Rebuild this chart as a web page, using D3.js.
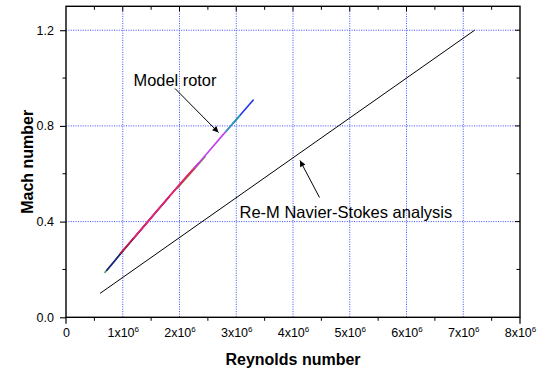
<!DOCTYPE html>
<html>
<head>
<meta charset="utf-8">
<script src="https://cdn.jsdelivr.net/npm/d3@7/dist/d3.min.js"></script>
<style>
  html, body { margin: 0; padding: 0; background: #fff; }
  svg { display: block; font-family: "Liberation Sans", Arial, sans-serif; }
</style>
</head>
<body>
<svg id="chart" width="539" height="371"></svg>
<script>
// Reynolds number values are in millions (x10^6)
const xMajorTicks = [0, 1, 2, 3, 4, 5, 6, 7, 8];
const xMinorTicks = [0.5, 1.5, 2.5, 3.5, 4.5, 5.5, 6.5, 7.5];
const yMajorTicks = [0.0, 0.4, 0.8, 1.2];
const yMinorTicks = [0.2, 0.6, 1.0];

// Re-M relation from the Navier-Stokes analysis
const nsRe = [0.6, 7.2];
const nsMach = [0.1, 1.2];

// Model rotor test runs (Re x10^6, Mach)
const rotorGreenRe = [0.688, 0.76, 0.86, 1.00];
const rotorGreenM  = [0.188, 0.208, 0.236, 0.279];
const rotorNavyRe  = [0.72, 0.90, 1.12, 1.36, 1.60, 1.82];
const rotorNavyM   = [0.197, 0.248, 0.310, 0.377, 0.443, 0.504];
const rotorRedRe   = [0.96, 1.12, 1.30, 1.58, 1.86, 2.12, 2.30];
const rotorRedM    = [0.268, 0.312, 0.361, 0.439, 0.516, 0.587, 0.634];
const rotorPinkRe  = [1.20, 1.45, 1.74, 2.02, 2.34];
const rotorPinkM   = [0.332, 0.402, 0.483, 0.560, 0.645];
const rotorOliveRe = [1.96, 2.20, 2.45];
const rotorOliveM  = [0.540, 0.603, 0.671];
const rotorVioletRe = [2.26, 2.48, 2.72, 2.95];
const rotorVioletM  = [0.623, 0.684, 0.750, 0.813];
const rotorCyanRe  = [2.82, 2.96, 3.06];
const rotorCyanM   = [0.777, 0.815, 0.843];
const rotorBlueRe  = [2.95, 3.12, 3.30];
const rotorBlueM   = [0.812, 0.859, 0.908];

const rotorRuns = [
  { re: rotorGreenRe,  m: rotorGreenM,  color: "#3c9a3c" },
  { re: rotorNavyRe,   m: rotorNavyM,   color: "#1c1c8c" },
  { re: rotorOliveRe,  m: rotorOliveM,  color: "#8c8a2c" },
  { re: rotorRedRe,    m: rotorRedM,    color: "#d2143c" },
  { re: rotorPinkRe,   m: rotorPinkM,   color: "#e4267a" },
  { re: rotorVioletRe, m: rotorVioletM, color: "#c040f0" },
  { re: rotorBlueRe,   m: rotorBlueM,   color: "#2436e6" },
  { re: rotorCyanRe,   m: rotorCyanM,   color: "#1ea2b4" }
];

const plot = { left: 66, right: 520, top: 6.3, bottom: 317.3 };
const x = d3.scaleLinear().domain([0, 8]).range([plot.left, plot.right]);
const y = d3.scaleLinear().domain([0, 1.3]).range([plot.bottom, plot.top]);

const svg = d3.select("#chart");

// Dotted grid
const gridColor = "#3a4cff";
svg.append("g").selectAll("line").data(xMajorTicks.slice(1, -1)).join("line")
  .attr("x1", d => x(d)).attr("x2", d => x(d))
  .attr("y1", plot.top).attr("y2", plot.bottom)
  .attr("stroke", gridColor).attr("stroke-width", 1).attr("stroke-dasharray", "1,1.4");
svg.append("g").selectAll("line").data(yMajorTicks.slice(1)).join("line")
  .attr("x1", plot.left).attr("x2", plot.right)
  .attr("y1", d => y(d)).attr("y2", d => y(d))
  .attr("stroke", gridColor).attr("stroke-width", 1).attr("stroke-dasharray", "1,1.4");

// Data lines
const line = d3.line().x(d => x(d[0])).y(d => y(d[1]));
svg.append("path")
  .attr("d", line(d3.zip(nsRe, nsMach)))
  .attr("fill", "none").attr("stroke", "#000").attr("stroke-width", 1);
svg.append("g").selectAll("path").data(rotorRuns).join("path")
  .attr("d", r => line(d3.zip(r.re, r.m)))
  .attr("fill", "none").attr("stroke", r => r.color)
  .attr("stroke-width", 1.6).attr("stroke-linecap", "round");

// Axes
const axisFont = 12.5;
const bottom = svg.append("g").attr("transform", `translate(0,${plot.bottom})`)
  .call(d3.axisBottom(x).tickValues(xMajorTicks).tickSize(0).tickPadding(12).tickFormat(() => ""));
bottom.select(".domain").remove();
bottom.selectAll(".tick text").each(function(d) {
  const t = d3.select(this).attr("font-size", axisFont).attr("fill", "#000")
    .attr("font-family", "Liberation Sans, Arial, sans-serif").attr("dy", "0.6em");
  if (d === 0) { t.text("0"); return; }
  t.append("tspan").text(d + "x10");
  t.append("tspan").text("6").attr("font-size", 8).attr("dy", "-0.55em");
});
// Bottom tick marks (outward)
svg.append("g").selectAll("line").data(xMinorTicks).join("line")
  .attr("x1", d => x(d)).attr("x2", d => x(d))
  .attr("y1", plot.bottom).attr("y2", plot.bottom + 3.5)
  .attr("stroke", "#000").attr("stroke-width", 1);
svg.append("g").selectAll("line").data([0, 8]).join("line")
  .attr("x1", d => x(d)).attr("x2", d => x(d))
  .attr("y1", plot.bottom).attr("y2", plot.bottom + 6.5)
  .attr("stroke", "#000").attr("stroke-width", 1.2);

// Top tick marks (inward)
svg.append("g").selectAll("line").data(xMajorTicks.slice(1, -1).concat(xMinorTicks)).join("line")
  .attr("x1", d => x(d)).attr("x2", d => x(d))
  .attr("y1", plot.top).attr("y2", d => plot.top + (Number.isInteger(d) ? 5 : 3.5))
  .attr("stroke", "#000").attr("stroke-width", 1);

// Left axis
const left = svg.append("g").attr("transform", `translate(${plot.left},0)`)
  .call(d3.axisLeft(y).tickValues(yMajorTicks).tickSize(6).tickPadding(6).tickFormat(d3.format(".1f")));
left.select(".domain").remove();
left.selectAll(".tick line").attr("stroke-width", 1.1);
left.selectAll(".tick text").attr("font-size", axisFont).attr("fill", "#000")
  .attr("font-family", "Liberation Sans, Arial, sans-serif");
svg.append("g").selectAll("line").data(yMinorTicks).join("line")
  .attr("x1", plot.left - 3.5).attr("x2", plot.left)
  .attr("y1", d => y(d)).attr("y2", d => y(d))
  .attr("stroke", "#000").attr("stroke-width", 1);

// Right tick marks (inward)
svg.append("g").selectAll("line").data(yMajorTicks.slice(1).concat(yMinorTicks)).join("line")
  .attr("x1", plot.right).attr("x2", d => plot.right - (yMajorTicks.includes(d) ? 5 : 3.5))
  .attr("y1", d => y(d)).attr("y2", d => y(d))
  .attr("stroke", "#000").attr("stroke-width", 1);

// Frame
svg.append("rect")
  .attr("x", plot.left).attr("y", plot.top)
  .attr("width", plot.right - plot.left).attr("height", plot.bottom - plot.top)
  .attr("fill", "none").attr("stroke", "#000").attr("stroke-width", 1.4);

// Axis titles
svg.append("text").attr("x", (plot.left + plot.right) / 2).attr("y", 365)
  .attr("text-anchor", "middle").attr("font-size", 16).attr("font-weight", "bold")
  .text("Reynolds number");
svg.append("text").attr("transform", `translate(33,${(plot.top + plot.bottom) / 2}) rotate(-90)`)
  .attr("text-anchor", "middle").attr("font-size", 16).attr("font-weight", "bold")
  .text("Mach number");

// Annotations with arrows
const defs = svg.append("defs");
defs.append("marker").attr("id", "arrowHead")
  .attr("viewBox", "0 0 10 10").attr("refX", 10).attr("refY", 5)
  .attr("markerWidth", 9).attr("markerHeight", 6).attr("markerUnits", "userSpaceOnUse")
  .attr("orient", "auto")
  .append("path").attr("d", "M0,0 L10,5 L0,10 Z").attr("fill", "#000");

svg.append("text").attr("x", 133.5).attr("y", 85.5).attr("font-size", 16.4).text("Model rotor");
svg.append("line").attr("x1", 175).attr("y1", 88.5).attr("x2", 218.5).attr("y2", 132.5)
  .attr("stroke", "#000").attr("stroke-width", 1).attr("marker-end", "url(#arrowHead)");

svg.append("text").attr("x", 239.5).attr("y", 217.5).attr("font-size", 16.5).text("Re-M Navier-Stokes analysis");
svg.append("line").attr("x1", 319.5).attr("y1", 197.5).attr("x2", 300).attr("y2", 160.5)
  .attr("stroke", "#000").attr("stroke-width", 1).attr("marker-end", "url(#arrowHead)");
</script>
</body>
</html>
